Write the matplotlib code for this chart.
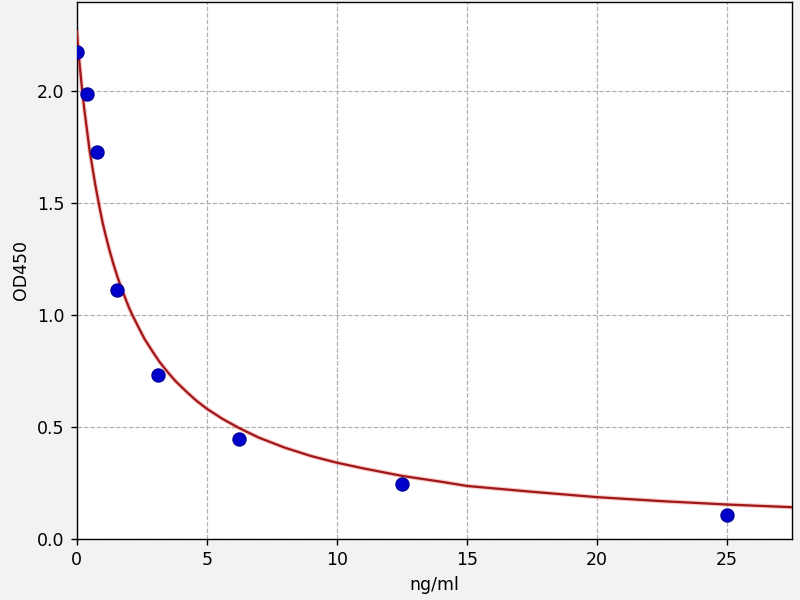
import matplotlib
matplotlib.use("Agg")
import matplotlib.pyplot as plt

# standard points (ng/ml vs OD450)
conc = [0, 0.39, 0.78, 1.56, 3.125, 6.25, 12.5, 25]
od = [2.175, 1.99, 1.728, 1.114, 0.734, 0.445, 0.245, 0.107]

# fitted curve
curve_x = [0, 0.05, 0.1, 0.16, 0.22, 0.3, 0.4, 0.5, 0.56, 0.7, 0.86, 1.0, 1.1,
           1.25, 1.4, 1.55, 1.7, 2.0, 2.14, 2.4, 2.6, 2.9, 3.19, 3.5, 3.8,
           4.2, 4.6, 5, 5.6, 6.22, 7, 8, 9, 10, 11, 12.5, 14, 15, 17.5, 20,
           22.5, 25, 27.5]
curve_y = [2.27, 2.20, 2.13, 2.06, 1.99, 1.91, 1.82, 1.73, 1.69, 1.59, 1.49,
           1.41, 1.362, 1.293, 1.232, 1.176, 1.125, 1.036, 1.0, 0.94, 0.895,
           0.84, 0.79, 0.745, 0.705, 0.66, 0.618, 0.582, 0.537, 0.497, 0.453,
           0.408, 0.371, 0.341, 0.316, 0.282, 0.256, 0.237, 0.211, 0.187,
           0.169, 0.154, 0.142]

fig = plt.figure(figsize=(6.4, 4.8), dpi=125, facecolor="#f2f2f2")
ax = fig.add_axes([0.096, 0.1017, 0.894, 0.895])
ax.set_facecolor("white")

ax.plot(curve_x, curve_y, color="#f08080", lw=2.6, alpha=0.4, zorder=2)
ax.plot(curve_x, curve_y, color="#a01818", lw=1.3, zorder=3)
ax.plot(conc, od, "o", color="#0000cd", markeredgecolor="#00009a",
        markeredgewidth=0.8, markersize=7.5, zorder=4)

ax.set_xlim(0, 27.5)
ax.set_ylim(0, 2.4)
ax.set_xticks([0, 5, 10, 15, 20, 25])
ax.set_yticks([0.0, 0.5, 1.0, 1.5, 2.0])
ax.grid(True, color="#b0b0b0", linestyle="--", linewidth=0.7)
ax.set_axisbelow(True)
ax.set_xlabel("ng/ml")
ax.set_ylabel("OD450")

fig.savefig("out.png", dpi=125, facecolor=fig.get_facecolor())
